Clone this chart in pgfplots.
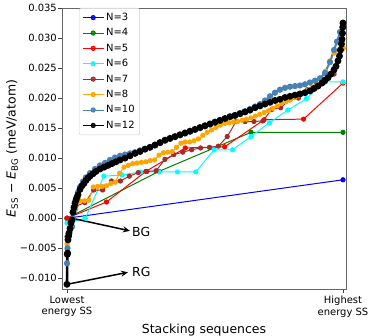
\documentclass[border=0pt]{standalone}
\usepackage{fontspec}
\setmainfont{DejaVu Sans}
\usepackage{pgfplots}
\pgfplotsset{compat=1.18}
\usetikzlibrary{arrows.meta}
\definecolor{mplblue}{RGB}{0,0,255}
\definecolor{mplgreen}{RGB}{0,128,0}
\definecolor{mplred}{RGB}{255,0,0}
\definecolor{mplcyan}{RGB}{0,255,255}
\definecolor{mplbrown}{RGB}{165,42,42}
\definecolor{mplorange}{RGB}{255,165,0}
\definecolor{mplsteel}{RGB}{70,130,180}
\begin{document}
\begin{tikzpicture}
\useasboundingbox (-62bp,-47bp) rectangle (312bp,289bp);
\begin{axis}[
  scale only axis, width=284bp, height=281bp,
  xmin=-0.0181, xmax=1.0109, ymin=-0.01178, ymax=0.035,
  xtick={0,1}, xticklabels={Lowest\\energy SS, Highest\\energy SS},
  xticklabel style={align=center, font=\fontsize{10}{11.5}\selectfont},
  ytick={-0.010,-0.005,0,0.005,0.010,0.015,0.020,0.025,0.030,0.035},
  yticklabels={−0.010,−0.005,0.000,0.005,0.010,0.015,0.020,0.025,0.030,0.035},
  yticklabel style={font=\fontsize{10}{12}\selectfont, inner xsep=1.5pt},
  scaled y ticks=false,
  xtick pos=bottom, ytick pos=left, tick align=outside,
  major tick length=3.5bp,
  tick style={black!75, line width=0.8pt},
  axis line style={black!60, line width=0.8pt},
  xlabel={Stacking sequences},
  ylabel={\textit{E}\textsubscript{SS} − \textit{E}\textsubscript{BG} (meV/atom)},
  ylabel style={at={(axis description cs:-0.176,0.5)}, anchor=center},
  label style={font=\fontsize{12.5}{15}\selectfont},
  clip=false,
  every axis plot/.append style={line width=1pt, mark=*, mark size=2.1pt},
  legend image code/.code={\draw[mark repeat=2,mark phase=2,#1,line width=1pt] plot coordinates {(0cm,0cm) (0.37cm,0cm) (0.74cm,0cm)};},
  legend cell align=left,
  legend style={at={(0.06,1)}, anchor=north west, font=\fontsize{10}{12}\selectfont,
    draw=black!20, rounded corners=2pt, fill=white, fill opacity=0.8, text opacity=1,
    row sep=2.6pt, inner xsep=3pt, inner ysep=3pt},
]
% N=3
\addplot[color=mplblue] coordinates {(0,0.0000) (1,0.0064)};
\addlegendentry{N=3}
% N=4
\addplot[color=mplgreen] coordinates {(0,0.0000) (0.3333,0.0078) (0.6667,0.0143) (1,0.0143)};
\addlegendentry{N=4}
% N=5
\addplot[color=mplred] coordinates {(0,0.0000) (0.1429,0.0027) (0.2857,0.0078) (0.4286,0.0117) (0.5714,0.0119) (0.7143,0.0164) (0.8571,0.0165) (1,0.0225)};
\addlegendentry{N=5}
% N=6
\addplot[color=mplcyan] coordinates {(0,-0.0008) (0.0667,0.0000) (0.1333,0.0070) (0.2,0.0072) (0.2667,0.0077) (0.3333,0.0077) (0.4,0.0077) (0.4667,0.0077) (0.5333,0.0114) (0.6,0.0114) (0.6667,0.0136) (0.7333,0.0159) (0.8,0.0180) (0.8667,0.0199) (0.9333,0.0227) (1,0.0227)};
\addlegendentry{N=6}
% N=7
\addplot[color=mplbrown] coordinates {(0,-0.0031) (0.0323,0.0020) (0.0645,0.0026) (0.0968,0.0047) (0.1290,0.0047) (0.1613,0.0062) (0.1935,0.0062) (0.2258,0.0070) (0.2581,0.0076) (0.2903,0.0078) (0.3226,0.0079) (0.3548,0.0098) (0.3871,0.0106) (0.4194,0.0110) (0.4516,0.0114) (0.4839,0.0117) (0.5161,0.0118) (0.5484,0.0120) (0.5806,0.0136) (0.6129,0.0161) (0.6452,0.0161) (0.6774,0.0161) (0.7097,0.0162) (0.7419,0.0181) (0.7742,0.0184) (0.8065,0.0197) (0.8387,0.0200) (0.8710,0.0214) (0.9032,0.0223) (0.9355,0.0227) (0.9677,0.0240) (1,0.0283)};
\addlegendentry{N=7}
% N=8
\addplot[color=mplorange] coordinates {(0,-0.0043) (0.0159,-0.0010) (0.0317,0.0015) (0.0476,0.0029) (0.0635,0.0029) (0.0794,0.0030) (0.0952,0.0052) (0.1111,0.0053) (0.1270,0.0053) (0.1429,0.0054) (0.1587,0.0058) (0.1746,0.0060) (0.1905,0.0075) (0.2063,0.0085) (0.2222,0.0088) (0.2381,0.0091) (0.2540,0.0092) (0.2698,0.0093) (0.2857,0.0094) (0.3016,0.0096) (0.3175,0.0097) (0.3333,0.0105) (0.3492,0.0109) (0.3651,0.0110) (0.3810,0.0111) (0.3968,0.0118) (0.4127,0.0125) (0.4286,0.0127) (0.4444,0.0127) (0.4603,0.0129) (0.4762,0.0132) (0.4921,0.0138) (0.5079,0.0143) (0.5238,0.0147) (0.5397,0.0151) (0.5556,0.0155) (0.5714,0.0158) (0.5873,0.0159) (0.6032,0.0160) (0.6190,0.0161) (0.6349,0.0163) (0.6508,0.0165) (0.6667,0.0167) (0.6825,0.0170) (0.6984,0.0173) (0.7143,0.0176) (0.7302,0.0179) (0.7460,0.0183) (0.7619,0.0187) (0.7778,0.0191) (0.7937,0.0194) (0.8095,0.0197) (0.8254,0.0201) (0.8413,0.0205) (0.8571,0.0209) (0.8730,0.0213) (0.8889,0.0218) (0.9048,0.0222) (0.9206,0.0230) (0.9365,0.0245) (0.9524,0.0262) (0.9683,0.0275) (0.9841,0.0280) (1,0.0283)};
\addlegendentry{N=8}
% N=10
\addplot[color=mplsteel, line width=2pt] coordinates {(0,-0.0075) (0.0018,-0.0050) (0.0054,-0.0030) (0.0109,-0.0020) (0.0181,-0.0014) (0.0217,0.0000) (0.0254,0.0015) (0.0326,0.0032) (0.0399,0.0043) (0.0471,0.0052) (0.0580,0.0061) (0.0688,0.0068) (0.0833,0.0075) (0.1014,0.0082) (0.1196,0.0088) (0.1377,0.0092) (0.1558,0.0097) (0.1739,0.0101) (0.1920,0.0104) (0.2101,0.0106) (0.2283,0.0108) (0.2464,0.0110) (0.2645,0.0113) (0.2826,0.0115) (0.3007,0.0118) (0.3188,0.0121) (0.3370,0.0125) (0.3551,0.0129) (0.3732,0.0132) (0.3913,0.0135) (0.4094,0.0138) (0.4275,0.0141) (0.4457,0.0144) (0.4638,0.0147) (0.4819,0.0150) (0.5000,0.0153) (0.5181,0.0156) (0.5362,0.0159) (0.5543,0.0162) (0.5725,0.0166) (0.5906,0.0169) (0.6087,0.0172) (0.6268,0.0175) (0.6449,0.0178) (0.6630,0.0182) (0.6812,0.0186) (0.6993,0.0190) (0.7174,0.0196) (0.7355,0.0203) (0.7536,0.0209) (0.7717,0.0214) (0.7899,0.0217) (0.8080,0.0219) (0.8261,0.0220) (0.8442,0.0221) (0.8623,0.0223) (0.8804,0.0226) (0.8986,0.0229) (0.9167,0.0233) (0.9348,0.0242) (0.9529,0.0260) (0.9674,0.0280) (0.9783,0.0294) (0.9891,0.0310) (1,0.0322)};
\addlegendentry{N=10}
% N=12
\addplot[color=black, line width=2.6pt] coordinates {(0,-0.0110) (0.0011,-0.0060) (0.0022,-0.0058) (0.0036,-0.0036) (0.0054,-0.0030) (0.0072,-0.0025) (0.0109,-0.0017) (0.0145,-0.0008) (0.0181,-0.0003) (0.0217,0.0010) (0.0254,0.0018) (0.0290,0.0025) (0.0326,0.0030) (0.0362,0.0035) (0.0399,0.0039) (0.0471,0.0048) (0.0543,0.0054) (0.0616,0.0058) (0.0688,0.0063) (0.0761,0.0067) (0.0833,0.0070) (0.0942,0.0074) (0.1051,0.0078) (0.1196,0.0082) (0.1341,0.0085) (0.1486,0.0088) (0.1630,0.0091) (0.1775,0.0094) (0.1920,0.0097) (0.2101,0.0100) (0.2283,0.0104) (0.2464,0.0108) (0.2645,0.0111) (0.2826,0.0115) (0.3007,0.0118) (0.3188,0.0122) (0.3370,0.0126) (0.3551,0.0130) (0.3732,0.0133) (0.3913,0.0136) (0.4094,0.0139) (0.4275,0.0142) (0.4457,0.0145) (0.4638,0.0148) (0.4819,0.0151) (0.5000,0.0154) (0.5181,0.0157) (0.5362,0.0160) (0.5543,0.0163) (0.5725,0.0166) (0.5906,0.0169) (0.6087,0.0171) (0.6268,0.0174) (0.6449,0.0177) (0.6630,0.0180) (0.6812,0.0184) (0.6993,0.0187) (0.7174,0.0190) (0.7355,0.0193) (0.7536,0.0196) (0.7717,0.0198) (0.7899,0.0201) (0.8080,0.0203) (0.8261,0.0205) (0.8442,0.0207) (0.8623,0.0209) (0.8804,0.0212) (0.8949,0.0216) (0.9094,0.0220) (0.9239,0.0225) (0.9348,0.0230) (0.9457,0.0234) (0.9565,0.0240) (0.9674,0.0247) (0.9746,0.0253) (0.9819,0.0262) (0.9873,0.0270) (0.9909,0.0280) (0.9946,0.0290) (0.9964,0.0298) (0.9982,0.0308) (0.9991,0.0318) (1,0.0325)};
\addlegendentry{N=12}
% annotations
\draw[-{Stealth[length=7bp,width=6bp]}, line width=1.5pt] (axis cs:0.018,0.0000) -- (axis cs:0.228,-0.0021);
\node[anchor=west, inner sep=1pt, font=\fontsize{12.5}{15}\selectfont] at (axis cs:0.232,-0.0023) {BG};
\draw[-{Stealth[length=7bp,width=6bp]}, line width=1.5pt] (axis cs:0,-0.0110) -- (axis cs:0.221,-0.0090);
\node[anchor=west, inner sep=1pt, font=\fontsize{12.5}{15}\selectfont] at (axis cs:0.232,-0.0090) {RG};
\end{axis}
\end{tikzpicture}
\end{document}
